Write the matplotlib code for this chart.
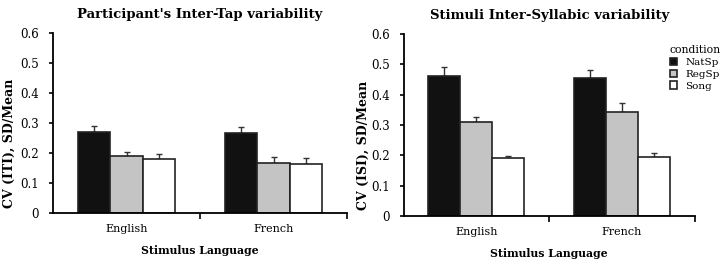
import numpy as np
import matplotlib.pyplot as plt
from matplotlib.patches import Patch

languages = ['English', 'French']
conditions = ['NatSp', 'RegSp', 'Song']
colors = ['#111111', '#c4c4c4', '#ffffff']

# Participant's inter-tap variability (means and upper error)
iti_mean = {'NatSp': [0.270, 0.267], 'RegSp': [0.190, 0.168], 'Song': [0.180, 0.165]}
iti_err = {'NatSp': [0.021, 0.021], 'RegSp': [0.015, 0.019], 'Song': [0.018, 0.019]}

# Stimuli inter-syllabic variability
isi_mean = {'NatSp': [0.460, 0.455], 'RegSp': [0.310, 0.342], 'Song': [0.190, 0.193]}
isi_err = {'NatSp': [0.030, 0.027], 'RegSp': [0.017, 0.030], 'Song': [0.008, 0.014]}

plt.rcParams['font.family'] = ['DejaVu Serif']

fig = plt.figure(figsize=(7.26, 2.64), dpi=100)
ax1 = fig.add_axes([0.073, 0.193, 0.405, 0.682])
ax2 = fig.add_axes([0.556, 0.182, 0.401, 0.689])


def draw_panel(ax, means, errs, title, ylabel, label_x):
    x = np.arange(len(languages))
    w = 0.22
    for i, c in enumerate(conditions):
        pos = x + (i - 1) * w
        ax.bar(pos, means[c], width=w, color=colors[i], edgecolor='#222222',
               linewidth=1.2, zorder=2)
        ax.errorbar(pos, means[c], yerr=[np.zeros(len(languages)), errs[c]],
                    fmt='none', ecolor='#333333', elinewidth=1, capsize=2,
                    capthick=1, zorder=1)
    ax.set_xlim(-0.5, 1.5)
    ax.set_ylim(0, 0.6)
    ax.set_yticks([0, 0.1, 0.2, 0.3, 0.4, 0.5, 0.6])
    ax.set_yticklabels(['0', '0.1', '0.2', '0.3', '0.4', '0.5', '0.6'], fontsize=8.5)
    ax.set_xticks([0.5, 1.5])
    ax.set_xticklabels([])
    ax.set_xticks(x, minor=True)
    ax.set_xticklabels(languages, minor=True, fontsize=8)
    ax.tick_params(axis='x', which='minor', length=0, pad=8)
    ax.tick_params(axis='x', which='major', direction='out', length=4, width=1.2)
    ax.tick_params(axis='y', direction='out', length=3, width=1.2, pad=7)
    for s in ['top', 'right']:
        ax.spines[s].set_visible(False)
    for s in ['left', 'bottom']:
        ax.spines[s].set_linewidth(1.3)
    ax.set_title(title, fontsize=9.5, fontweight='bold', pad=11)
    ax.set_ylabel(ylabel, fontsize=9, fontweight='bold')
    ax.yaxis.set_label_coords(label_x, 0.39)
    ax.set_xlabel('Stimulus Language', fontsize=7.8, fontweight='bold', labelpad=8)


draw_panel(ax1, iti_mean, iti_err, "Participant's Inter-Tap variability",
           'CV (ITI), SD/Mean', -0.125)
draw_panel(ax2, isi_mean, isi_err, 'Stimuli Inter-Syllabic variability',
           'CV (ISI), SD/Mean', -0.115)

handles = [Patch(facecolor=colors[i], edgecolor='#222222', linewidth=1.2)
           for i in range(len(conditions))]
leg = fig.legend(handles, conditions, title='condition', loc='upper left',
                 bbox_to_anchor=(0.917, 0.845), frameon=False, fontsize=7.5,
                 title_fontsize=7.8, handlelength=0.7, handleheight=0.7,
                 handletextpad=0.8, labelspacing=0.25, borderaxespad=0)
leg._legend_box.align = 'left'

fig.savefig('out.png', dpi=100)
